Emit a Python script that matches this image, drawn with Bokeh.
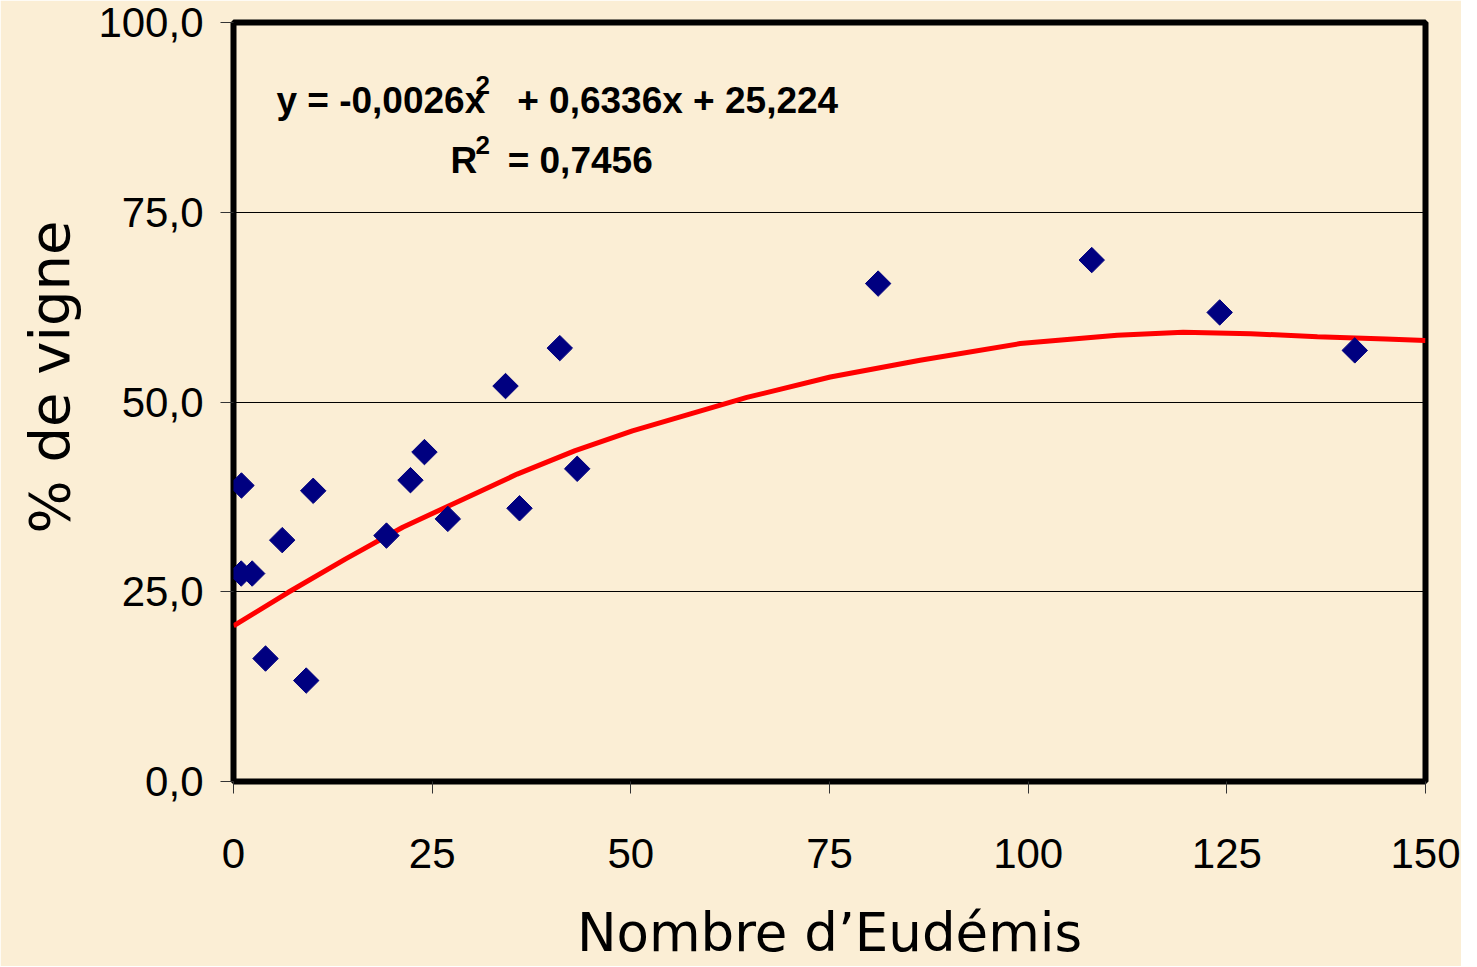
import numpy as np
from bokeh.plotting import figure
from bokeh.models import Range1d, FixedTicker, Label, Title
from bokeh.embed import file_html
from bokeh.resources import INLINE

# ---------------- data ----------------
eudemis = [1.0, 0.97, 2.35, 4.03, 6.13, 9.15, 10.03, 19.25, 22.27, 24.03,
           26.97, 34.23, 35.99, 41.06, 43.25, 81.12, 108.0, 124.1, 141.1]
vigne = [39.0, 27.4, 27.4, 16.2, 31.8, 13.3, 38.3, 32.4, 39.7, 43.4,
         34.6, 52.1, 36.0, 57.1, 41.2, 65.6, 68.7, 61.8, 56.8]

trend_x = [0, 6.85, 14.07, 21.3, 28.5, 35.7, 43.0, 50.2, 57.4, 64.6, 75.1,
           86.4, 99.0, 111.2, 119.5, 128.0, 136.4, 145.0, 150]
trend_y = [20.5, 24.9, 29.3, 33.5, 37.0, 40.5, 43.6, 46.2, 48.4, 50.6, 53.3,
           55.5, 57.7, 58.8, 59.2, 59.0, 58.6, 58.3, 58.1]

x_ticks = [0, 25, 50, 75, 100, 125, 150]
x_tick_labels = ["0", "25", "50", "75", "100", "125", "150"]
y_ticks = [0, 25, 50, 75, 100]
y_tick_labels = ["0,0", "25,0", "50,0", "75,0", "100,0"]

x_title = "Nombre d\u2019Eud\u00e9mis"
y_title = "% de vigne"
eq_part1 = "y = -0,0026x"
eq_part2 = "+ 0,6336x + 25,224"
r_part1 = "R"
r_part2 = "= 0,7456"
sup_text = "2"

# ---------------- figure ----------------
BG = "#FBEED5"
FW, FH = 1192, 759
BL, BR, BT, BB = 233, 36, 22, 185

p = figure(frame_width=FW, frame_height=FH,
           min_border_left=BL, min_border_right=BR,
           min_border_top=BT, min_border_bottom=BB,
           x_range=Range1d(0, 150), y_range=Range1d(0, 100),
           output_backend="svg", toolbar_location=None)
p.background_fill_color = BG
p.border_fill_color = BG
p.outline_line_color = "black"
p.outline_line_width = 6

# axes
p.xaxis.ticker = FixedTicker(ticks=x_ticks)
p.xaxis.major_label_overrides = {t: l for t, l in zip(x_ticks, x_tick_labels)}
p.yaxis.ticker = FixedTicker(ticks=y_ticks)
p.yaxis.major_label_overrides = {t: l for t, l in zip(y_ticks, y_tick_labels)}
for ax in (p.xaxis, p.yaxis):
    ax.axis_line_color = None
    ax.major_tick_in = 0
    ax.minor_tick_line_color = None
    ax.major_tick_line_color = "#333333"
    ax.major_tick_line_width = 1
    ax.major_label_text_font = "Liberation Sans"
    ax.major_label_text_font_size = "42px"
    ax.major_label_text_color = "black"
p.xaxis.major_tick_out = 12
p.yaxis.major_tick_out = 13
p.xaxis.major_label_standoff = 45
p.yaxis.major_label_standoff = 17

# x title as axis label
p.xaxis.axis_label = x_title
p.xaxis.axis_label_text_font = "DejaVu Sans"
p.xaxis.axis_label_text_font_size = "53px"
p.xaxis.axis_label_text_font_style = "normal"
p.xaxis.axis_label_text_color = "black"
p.xaxis.axis_label_standoff = 31

p.xgrid.visible = False
p.ygrid.ticker = FixedTicker(ticks=y_ticks)
p.ygrid.grid_line_color = "black"
p.ygrid.grid_line_width = 1

# y title as a side title (shifted up along the axis)
p.add_layout(Title(text=y_title, text_font="DejaVu Sans", text_font_size="56px",
                   text_font_style="normal", text_color="black",
                   align="left", offset=248, standoff=27), "left")

# trend line
p.line(trend_x, trend_y, line_color="#FF0000", line_width=5)

# points
p.scatter(eudemis, vigne, marker="square", angle=np.pi / 4, size=18,
          fill_color="#000080", line_color="#000080")

# equation text
font = "Liberation Sans"
def lab(x, y, t, size):
    p.add_layout(Label(x=x, y=y, text=t, text_font=font, text_font_style="bold",
                       text_font_size=size, text_color="black",
                       text_baseline="alphabetic", text_align="left"))

lab(5.4, 89.7, eq_part1, "37px")
lab(30.45, 91.8, sup_text, "26px")
lab(35.7, 89.7, eq_part2, "37px")
lab(27.3, 81.8, r_part1, "37px")
lab(30.45, 83.9, sup_text, "26px")
lab(34.5, 81.8, r_part2, "37px")

open("out.html", "w").write(file_html(p, INLINE))
